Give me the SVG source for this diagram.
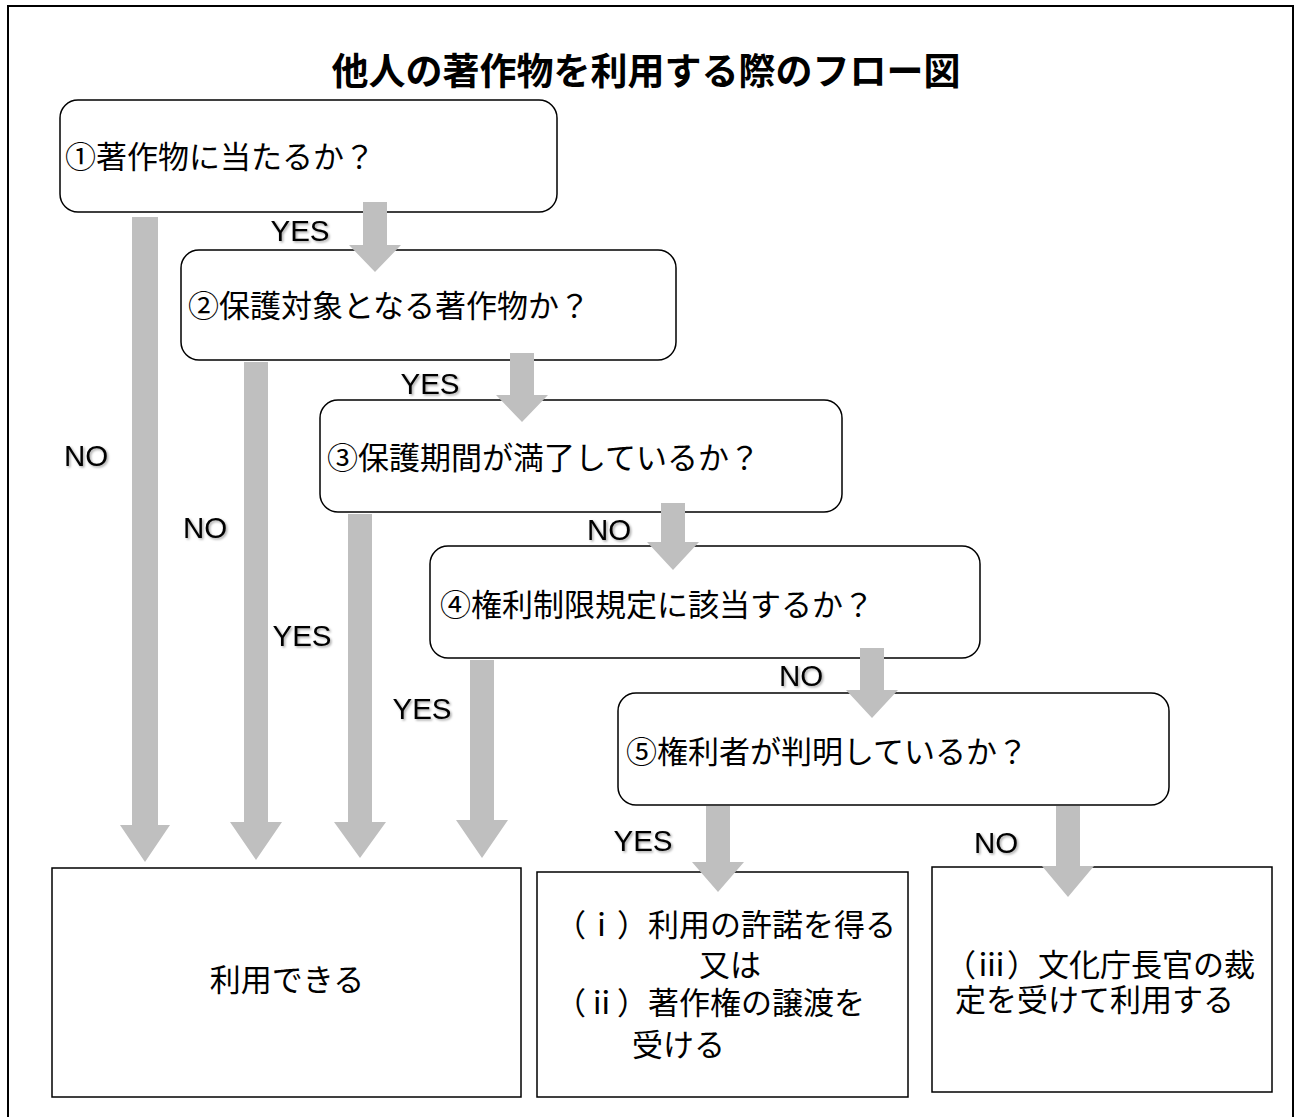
<svg xmlns="http://www.w3.org/2000/svg" width="1298" height="1117" viewBox="0 0 1298 1117">
<defs>
<filter id="sh" x="-20%" y="-20%" width="140%" height="140%">
<feDropShadow dx="1.5" dy="1.5" stdDeviation="1" flood-color="#000" flood-opacity="0.35"/>
</filter>
</defs>
<style>
.frame{fill:#fff;stroke:#000;stroke-width:2}
.q{fill:#fff;stroke:#000;stroke-width:1.5}
.r{fill:#fff;stroke:#000;stroke-width:1.5}
.t{font-family:"Noto Sans CJK JP","Noto Sans",sans-serif;font-size:31px;fill:#000}
.title{font-family:"Noto Sans CJK JP","Noto Sans",sans-serif;font-size:37px;font-weight:bold;fill:#000}
.lbl{font-family:"Liberation Sans","DejaVu Sans",sans-serif;font-size:29.5px;fill:#000;text-anchor:middle;filter:url(#sh)}
.arr{fill:#BFBFBF;stroke:none}
</style>
<rect class="frame" x="8" y="6" width="1285" height="1120"/>
<text class="title" x="646" y="85" text-anchor="middle">他人の著作物を利用する際のフロー図</text>

<g id="q1"><rect class="q" x="60" y="100" width="497" height="112" rx="18"/><text class="t" x="65" y="168">①著作物に当たるか？</text></g>
<g id="q2"><rect class="q" x="181" y="250" width="495" height="110" rx="18"/><text class="t" x="188" y="317">②保護対象となる著作物か？</text></g>
<g id="q3"><rect class="q" x="320" y="400" width="522" height="112" rx="18"/><text class="t" x="327" y="469">③保護期間が満了しているか？</text></g>
<g id="q4"><rect class="q" x="430" y="546" width="550" height="112" rx="18"/><text class="t" x="440" y="616">④権利制限規定に該当するか？</text></g>
<g id="q5"><rect class="q" x="618" y="693" width="551" height="112" rx="18"/><text class="t" x="626" y="763">⑤権利者が判明しているか？</text></g>

<g id="rA"><rect class="r" x="52" y="868" width="469" height="229"/><text class="t" x="287" y="991" text-anchor="middle">利用できる</text></g>
<g id="rB"><rect class="r" x="537" y="872" width="371" height="225"/>
<text class="t" x="555" y="936">（ⅰ）利用の許諾を得る</text>
<text class="t" x="730" y="976" text-anchor="middle">又は</text>
<text class="t" x="555" y="1014">（ⅱ）著作権の譲渡を</text>
<text class="t" x="632" y="1056">受ける</text></g>
<g id="rC"><rect class="r" x="932" y="867" width="340" height="225"/>
<text class="t" x="945" y="976">（ⅲ）文化庁長官の裁</text>
<text class="t" x="955" y="1011">定を受けて利用する</text></g>

<g id="connectors">
<path class="arr" d="M132,217 H158 V825 H170 L145,862 L120,825 H132 Z"/>
<path class="arr" d="M244,362 H268 V822 H282 L256,860 L230,822 H244 Z"/>
<path class="arr" d="M348,514 H372 V822 H386 L360,858 L334,822 H348 Z"/>
<path class="arr" d="M470,660 H494 V820 H508 L482,858 L456,820 H470 Z"/>
<path class="arr" d="M363,202 H387 V245 H401 L375,272 L349,245 H363 Z"/>
<path class="arr" d="M510,353 H534 V395 H548 L522,422 L496,395 H510 Z"/>
<path class="arr" d="M661,503 H685 V542 H699 L673,570 L647,542 H661 Z"/>
<path class="arr" d="M860,648 H884 V690 H898 L872,718 L846,690 H860 Z"/>
<path class="arr" d="M706,806 H730 V862 H744 L718,892 L692,862 H706 Z"/>
<path class="arr" d="M1056,806 H1080 V866 H1094 L1068,897 L1042,866 H1056 Z"/>
<text class="lbl" x="300" y="241">YES</text>
<text class="lbl" x="430" y="394">YES</text>
<text class="lbl" x="609" y="540">NO</text>
<text class="lbl" x="801" y="686">NO</text>
<text class="lbl" x="86" y="466">NO</text>
<text class="lbl" x="205" y="538">NO</text>
<text class="lbl" x="302" y="646">YES</text>
<text class="lbl" x="422" y="719">YES</text>
<text class="lbl" x="643" y="851">YES</text>
<text class="lbl" x="996" y="853">NO</text>
</g>
</svg>
